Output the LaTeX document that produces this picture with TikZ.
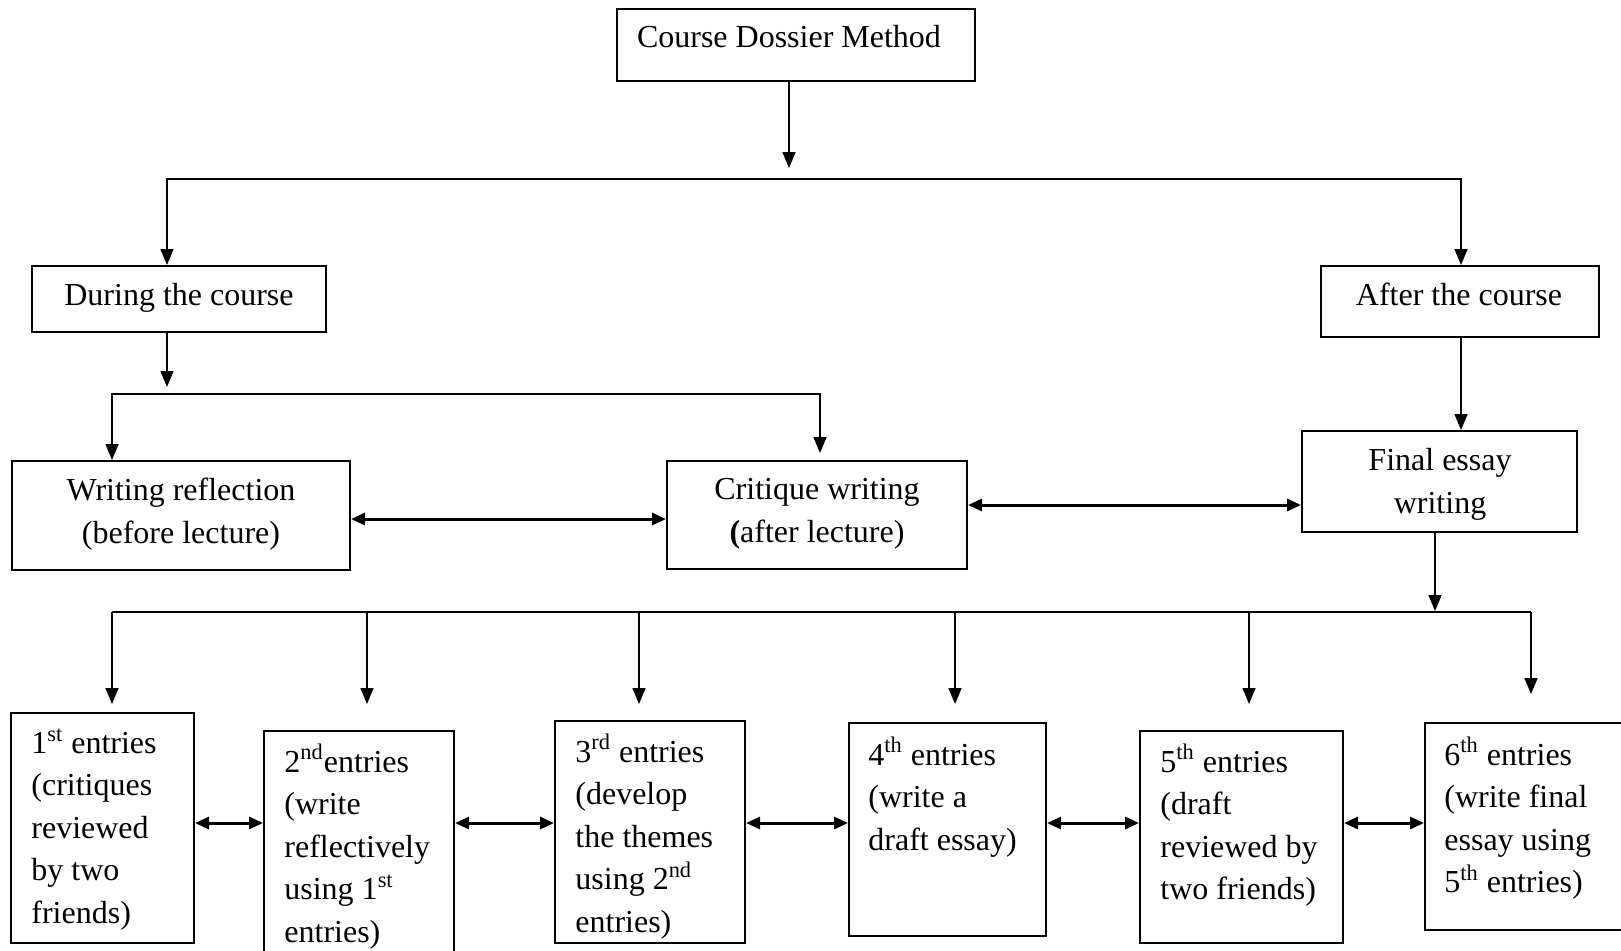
\documentclass[tikz,border=0pt]{standalone}
\usepackage{fontspec}
\setmainfont{Liberation Serif}
\usetikzlibrary{arrows.meta,positioning}

\begin{document}
\begin{tikzpicture}[x=0.5pt,y=-0.5pt,>={Triangle[length=8pt,width=6.5pt]},
  box/.style={draw,line width=1pt,inner sep=0pt},
  txt/.style={inner sep=0pt,font=\fontsize{16}{21.2}\selectfont},
  link/.style={line width=0.75pt},
  both/.style={line width=1.5pt,{Triangle[length=7pt,width=6pt]}-{Triangle[length=7pt,width=6pt]}}]
  \useasboundingbox (0,0) rectangle (1621,950);

  \node[box,minimum width=179pt,minimum height=36pt] (cdm) at (796,45) {};
  \node[txt,anchor=north] (cdmt) at (789,25) {Course Dossier Method};
  \node[box,minimum width=147pt,minimum height=33pt] (dur) at (179,299) {};
  \node[txt,anchor=north] (durt) at (179,283) {During the course};
  \node[box,minimum width=139pt,minimum height=35.5pt] (aft) at (1460,301.5) {};
  \node[txt,anchor=north] (aftt) at (1459,283) {After the course};
  \node[box,minimum width=169pt,minimum height=54.5pt] (wr) at (181,515.5) {};
  \node[txt,anchor=north,align=center] (wrt) at (181,478) {Writing reflection\\(before lecture)};
  \node[box,minimum width=150pt,minimum height=54pt] (cw) at (817,515) {};
  \node[txt,anchor=north,align=center] (cwt) at (817,478) {Critique writing\\\textbf{(}after lecture)};
  \node[box,minimum width=137.5pt,minimum height=50.5pt] (fe) at (1439.5,481.5) {};
  \node[txt,anchor=north,align=center] (fet) at (1440,448) {Final essay\\writing};

  \node[box,minimum width=91.5pt,minimum height=115pt] (e1) at (102.5,828) {};
  \node[txt,align=left,below right=8pt and 10.5pt of e1.north west] (e1t)
    {1\textsuperscript{st} entries\\(critiques\\reviewed\\by two\\friends)};
  \node[box,minimum width=95pt,minimum height=115.5pt] (e2) at (359,846.5) {};
  \node[txt,align=left,below right=7pt and 10.5pt of e2.north west] (e2t)
    {2\textsuperscript{nd}entries\\(write\\reflectively\\using 1\textsuperscript{st}\\entries)};
  \node[box,minimum width=95pt,minimum height=111pt] (e3) at (650,832) {};
  \node[txt,align=left,below right=7pt and 10.5pt of e3.north west] (e3t)
    {3\textsuperscript{rd} entries\\(develop\\the themes\\using 2\textsuperscript{nd}\\entries)};
  \node[box,minimum width=98.5pt,minimum height=106.5pt] (e4) at (947.5,829.5) {};
  \node[txt,align=left,below right=7.5pt and 10pt of e4.north west] (e4t)
    {4\textsuperscript{th} entries\\(write a\\draft essay)};
  \node[box,minimum width=101.5pt,minimum height=106pt] (e5) at (1241.5,837) {};
  \node[txt,align=left,below right=7pt and 10.5pt of e5.north west] (e5t)
    {5\textsuperscript{th} entries\\(draft\\reviewed by\\two friends)};
  \node[box,minimum width=104pt,minimum height=103.5pt] (e6) at (1529,826.5) {};
  \node[txt,align=left,below right=7.5pt and 10pt of e6.north west] (e6t)
    {6\textsuperscript{th} entries\\(write final\\essay using\\5\textsuperscript{th} entries)};

  \draw[link,->] (cdm.south -| 789,0) -- (789,168);
  \draw[link,<->] (dur.north -| 167,0) -- (167,179) -- (1461,179) -- (aft.north -| 1461,0);
  \draw[link,->] (dur.south -| 167,0) -- (167,387);
  \draw[link,<->] (wr.north -| 112,0) -- (112,394) -- (820,394) -- (820,453);
  \draw[link,->] (aft.south -| 1461,0) -- (fe.north -| 1461,0);
  \draw[link,->] (fe.south -| 1435,0) -- (1435,611);
  \draw[both] (wr.east |- 0,519) -- (cw.west |- 0,519);
  \draw[both] (cw.east |- 0,505) -- (fe.west |- 0,505);

  \draw[link] (112,612) -- (1531,612);
  \foreach \n/\x/\s in {e1/112/4pt,e2/367/13pt,e3/639/8pt,e4/955/9pt,e5/1249/13pt,e6/1531/14pt}
    \draw[link,->,shorten >=\s] (\x,612) -- (\n.north -| \x,0);
  \foreach \a/\b in {e1/e2,e2/e3,e3/e4,e4/e5,e5/e6}
    \draw[both] (\a.east |- 0,823) -- (\b.west |- 0,823);
\end{tikzpicture}
\end{document}
